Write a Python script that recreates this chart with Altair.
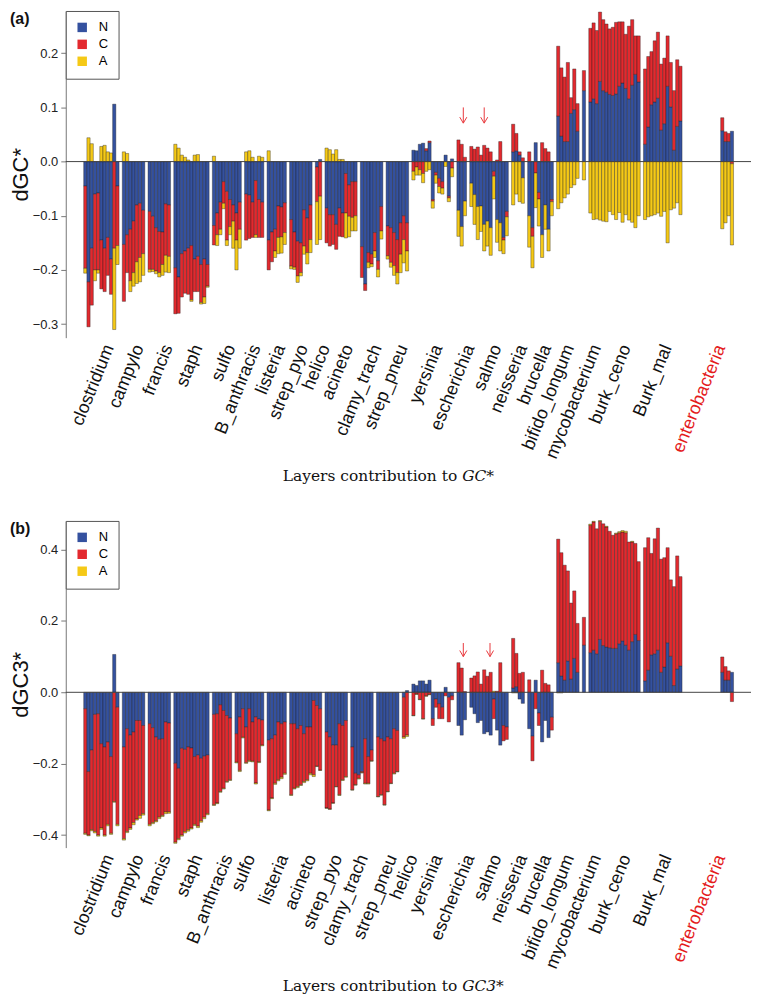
import altair as alt
import pandas as pd

COMPONENTS = ["N", "C", "A"]
COLORS = ["#34519f", "#e3292e", "#f5c916"]

# bars per group, in the left-to-right order of each panel
SIZES_A = [11, 7, 7, 11, 9, 6, 6, 7, 2, 10, 7, 7, 6, 7, 3, 12, 4, 8, 7, 1, 16, 12, 4]
SIZES_B = [11, 7, 7, 11, 6, 9, 6, 10, 7, 7, 7, 2, 6, 7, 3, 12, 4, 8, 7, 1, 16, 12, 4]
# empty bar slots after each group (layout)
GAPS = [1, 1, 1, 1, 1, 1, 1, 1, 1, 1, 1, 1, 0, 1, 1, 1, 1, 1, 1, 1, 1, 12]

# ---------------- panel (a): dGC* ----------------
N_A = [-0.045, -0.222, -0.160, -0.060, -0.058, -0.145, -0.160, -0.140, -0.180, 0.106, -0.045,
       -0.153, -0.135, -0.125, -0.110, -0.080, -0.077, -0.090,
       -0.092, -0.101, -0.122, -0.129, -0.130, -0.078, -0.080,
       -0.196, -0.213, -0.170, -0.165, -0.160, -0.155, -0.180, -0.175, -0.190, -0.180, -0.190,
       -0.118, -0.095, -0.075, -0.037, -0.055, -0.070, -0.080, -0.095, -0.075,
       -0.060, -0.062, -0.075, -0.035, -0.070, -0.075,
       -0.145, -0.130, -0.125, -0.082, -0.084, -0.076,
       -0.107, -0.130, -0.147, -0.150, -0.089, -0.104, -0.080,
       -0.010, 0.004,
       -0.086, -0.098, -0.098, -0.116, -0.086, -0.095, -0.022, -0.043, -0.037, -0.037,
       -0.157, -0.226, -0.168, -0.171, -0.131, -0.183, -0.083,
       -0.119, -0.122, -0.131, -0.144, -0.113, -0.100, -0.113,
       0.021, 0.020, 0.032, 0.034, 0.020, 0.035,
       -0.070, -0.020, -0.031, -0.037, 0.012, -0.064, 0.005,
       -0.090, -0.120, -0.073,
       -0.040, -0.061, -0.083, -0.082, -0.116, -0.110, -0.122, -0.018, -0.107, -0.113, -0.140, -0.092,
       0.018, 0.020, 0.012, -0.030,
       -0.100, -0.122, 0.035, -0.057, -0.135, -0.080, -0.125, -0.070,
       0.084, 0.047, 0.037, 0.037, 0.089, 0.096, 0.056,
       0.131,
       0.110, 0.116, 0.107, 0.148, 0.131, 0.128, 0.124, 0.122, 0.125, 0.139, 0.145, 0.135, 0.116, 0.141, 0.161, 0.147,
       0.032, 0.064, 0.105, 0.110, 0.117, 0.058, 0.070, 0.139, 0.101, 0.021, 0.065, 0.075,
       0.057, 0.037, 0.037, 0.056]
C_A = [-0.152, -0.083, -0.105, -0.140, -0.142, -0.090, -0.080, -0.070, -0.065, -0.160, -0.110,
       -0.105, -0.070, -0.095, -0.095, -0.105, -0.100, -0.080,
       -0.107, -0.098, -0.080, -0.076, -0.060, -0.095, -0.095,
       -0.085, -0.067, -0.080, -0.078, -0.085, -0.100, -0.060, -0.065, -0.070, -0.070, -0.040,
       -0.036, -0.040, -0.050, -0.040, -0.090, -0.050, -0.030, -0.050, -0.050,
       -0.085, -0.080, -0.065, -0.100, -0.070, -0.065,
       -0.055, -0.055, -0.040, -0.058, -0.055, -0.055,
       -0.086, -0.065, -0.064, -0.055, -0.067, -0.064, -0.064,
       -0.064, -0.064,
       -0.064, -0.058, -0.055, -0.046, -0.052, -0.044, -0.073, -0.058, -0.066, -0.063,
       -0.057, -0.012, -0.018, -0.018, -0.034, -0.016, -0.045,
       -0.055, -0.064, -0.061, -0.061, -0.058, -0.044, -0.052,
       -0.018, -0.010, -0.015, -0.022, 0.004, 0.003,
       -0.003, -0.005, -0.015, -0.012, 0.000, -0.003, -0.012,
       0.040, 0.032, 0.008,
       0.028, 0.023, 0.027, 0.012, 0.030, 0.025, 0.018, -0.009, 0.003, 0.037, -0.005, -0.010,
       0.051, 0.032, 0.006, 0.007,
       0.018, -0.016, -0.021, -0.012, 0.035, 0.024, 0.018, -0.004,
       0.129, 0.126, 0.119, 0.146, 0.029, 0.075, 0.051,
       0.037,
       0.136, 0.140, 0.135, 0.128, 0.131, 0.126, 0.121, 0.126, 0.132, 0.119, 0.113, 0.100, 0.134, 0.121, 0.071, 0.085,
       0.139, 0.130, 0.098, 0.113, 0.122, 0.122, 0.121, 0.093, 0.082, 0.110, 0.123, 0.101,
       0.024, 0.018, 0.015, -0.004]
A_A = [-0.009, 0.044, 0.033, -0.020, -0.006, 0.028, 0.030, 0.018, 0.016, -0.150, -0.035,
       0.018, 0.015, -0.020, -0.025, -0.040, -0.045, -0.040,
       -0.005, -0.004, -0.005, -0.008, -0.020, -0.031, -0.030,
       0.032, 0.025, 0.012, 0.008, 0.003, -0.003, 0.012, 0.013, -0.003, -0.012, -0.002,
       0.010, -0.020, -0.010, -0.010, -0.010, -0.015, -0.050, -0.055, -0.035,
       0.018, 0.020, 0.008, -0.005, 0.010, 0.008,
       0.020, 0.000, -0.012, -0.030, -0.030, -0.022,
       -0.005, -0.004, -0.012, -0.006, -0.015, -0.021, -0.024,
       -0.079, -0.080,
       0.025, 0.022, 0.014, 0.022, 0.004, 0.004, -0.046, -0.038, -0.025, -0.028,
       0.000, 0.000, -0.010, -0.005, -0.012, -0.014, -0.015,
       -0.006, -0.009, -0.018, -0.021, -0.034, -0.043, -0.037,
       -0.016, -0.015, -0.010, -0.017, -0.018, -0.015,
       -0.013, -0.015, -0.012, -0.011, -0.009, -0.007, -0.016,
       -0.048, -0.036, -0.027,
       -0.043, -0.055, -0.061, -0.047, -0.049, -0.046, -0.051, -0.042, -0.042, -0.052, -0.025, -0.035,
       -0.080, -0.060, -0.074, -0.047,
       -0.058, -0.058, -0.064, -0.050, -0.042, -0.045, -0.040, -0.026,
       -0.087, -0.076, -0.067, -0.060, -0.048, -0.043, -0.031,
       -0.034,
       -0.095, -0.107, -0.106, -0.108, -0.110, -0.111, -0.092, -0.098, -0.107, -0.094, -0.112, -0.098, -0.108, -0.112, -0.122, -0.100,
       -0.107, -0.102, -0.100, -0.098, -0.095, -0.101, -0.092, -0.150, -0.089, -0.086, -0.076, -0.098,
       -0.124, -0.113, -0.100, -0.150]

# ---------------- panel (b): dGC3* ----------------
N_B = [-0.046, -0.222, -0.162, -0.062, -0.060, -0.144, -0.153, -0.139, -0.180, 0.106, -0.042,
       -0.153, -0.102, -0.120, -0.111, -0.079, -0.079, -0.093,
       -0.088, -0.099, -0.125, -0.132, -0.130, -0.083, -0.086,
       -0.199, -0.213, -0.157, -0.160, -0.153, -0.156, -0.180, -0.176, -0.185, -0.179, -0.176,
       -0.062, -0.060, -0.035, -0.051, -0.065, -0.072,
       -0.116, -0.069, -0.046, -0.097, -0.046, -0.083, -0.069, -0.075, -0.078,
       -0.134, -0.130, -0.120, -0.083, -0.088, -0.083,
       -0.088, -0.088, -0.102, -0.093, -0.116, -0.097, -0.097, -0.023, -0.037, -0.046,
       -0.111, -0.125, -0.148, -0.148, -0.088, -0.093, -0.079,
       -0.153, -0.227, -0.231, -0.222, -0.130, -0.180, -0.162,
       -0.125, -0.130, -0.136, -0.125, -0.130, -0.102, -0.107,
       -0.014, 0.005,
       0.023, 0.019, 0.032, 0.032, 0.023, 0.034,
       -0.074, -0.019, -0.032, -0.042, 0.014, -0.014, -0.010,
       -0.093, -0.120, -0.077,
       -0.042, -0.060, -0.085, -0.079, -0.116, -0.111, -0.120, -0.019, -0.106, -0.148, -0.093, -0.097,
       0.012, 0.016, -0.019, -0.031,
       -0.102, -0.123, 0.034, -0.058, -0.139, -0.079, -0.127, -0.070,
       0.083, 0.046, 0.034, 0.088, 0.037, 0.095, 0.056,
       0.132,
       0.111, 0.118, 0.108, 0.148, 0.131, 0.127, 0.125, 0.123, 0.123, 0.136, 0.144, 0.132, 0.118, 0.142, 0.162, 0.145,
       0.032, 0.062, 0.105, 0.108, 0.118, 0.056, 0.071, 0.139, 0.101, 0.019, 0.065, 0.074,
       0.056, 0.034, 0.034, 0.056]
C_B = [-0.349, -0.178, -0.223, -0.328, -0.340, -0.236, -0.247, -0.231, -0.215, -0.306, -0.328,
       -0.257, -0.288, -0.260, -0.254, -0.276, -0.266, -0.247,
       -0.282, -0.266, -0.235, -0.218, -0.215, -0.252, -0.249,
       -0.221, -0.197, -0.243, -0.230, -0.232, -0.224, -0.190, -0.199, -0.175, -0.171, -0.164,
       -0.253, -0.250, -0.243, -0.218, -0.185, -0.173,
       -0.080, -0.150, -0.080, -0.100, -0.145, -0.110, -0.185, -0.120, -0.070,
       -0.196, -0.166, -0.135, -0.162, -0.150, -0.144,
       -0.199, -0.181, -0.162, -0.166, -0.134, -0.148, -0.130, -0.208, -0.170, -0.172,
       -0.213, -0.202, -0.162, -0.116, -0.199, -0.152, -0.157,
       -0.120, -0.032, -0.010, -0.003, -0.125, -0.075, -0.030,
       -0.167, -0.157, -0.179, -0.153, -0.125, -0.125, -0.115,
       -0.111, -0.120,
       -0.065, -0.005, -0.020, -0.074, -0.010, -0.006,
       -0.019, -0.023, -0.042, -0.032, -0.010, -0.069, -0.011,
       0.083, 0.068, 0.002,
       0.040, 0.046, 0.057, 0.023, 0.063, 0.045, 0.056, -0.055, 0.003, 0.083, -0.043, -0.035,
       0.139, 0.093, 0.053, 0.056,
       0.035, -0.069, -0.046, -0.035, 0.062, 0.025, 0.021, -0.036,
       0.346, 0.345, 0.322, 0.252, 0.213, 0.189, 0.137,
       0.078,
       0.357, 0.359, 0.350, 0.331, 0.341, 0.336, 0.326, 0.317, 0.321, 0.311, 0.305, 0.315, 0.303, 0.279, 0.255, 0.221,
       0.373, 0.371, 0.284, 0.322, 0.342, 0.317, 0.306, 0.266, 0.214, 0.277, 0.317, 0.250,
       0.043, 0.038, 0.026, -0.026]
A_B = [-0.003, -0.002, -0.003, -0.004, -0.003, -0.004, -0.003, -0.004, -0.003, -0.002, -0.004,
       -0.004, -0.003, -0.004, -0.006, -0.003, -0.008, -0.004,
       -0.004, -0.003, -0.003, -0.004, -0.003, -0.005, -0.004,
       -0.003, -0.003, -0.003, -0.004, -0.004, -0.003, -0.003, -0.004, -0.004, -0.004, -0.003,
       -0.002, -0.002, -0.002, -0.002, -0.002, -0.002,
       -0.002, -0.003, -0.002, -0.002, -0.003, -0.002, -0.003, -0.002, -0.002,
       -0.002, -0.002, -0.003, -0.003, -0.004, -0.003,
       -0.002, -0.002, -0.003, -0.002, -0.003, -0.003, -0.004, -0.005, -0.001, -0.001,
       -0.001, -0.001, -0.001, -0.001, -0.002, -0.002, -0.002,
       -0.001, -0.001, -0.002, -0.001, -0.002, -0.002, -0.001,
       -0.001, -0.001, -0.001, -0.001, -0.001, -0.002, -0.001,
       -0.004, -0.004,
       -0.001, -0.001, -0.001, -0.001, -0.001, -0.001,
       0.000, 0.000, 0.000, 0.000, 0.000, 0.000, 0.000,
       0.000, 0.000, 0.000,
       0.000, 0.000, 0.000, 0.000, 0.000, 0.000, 0.000, 0.003, 0.000, 0.000, 0.000, 0.000,
       -0.002, -0.002, 0.000, 0.000,
       0.000, 0.000, 0.000, 0.000, 0.000, 0.000, 0.000, 0.000,
       -0.002, -0.002, 0.000, 0.000, 0.000, 0.000, 0.000,
       0.000,
       0.003, 0.002, 0.000, 0.002, 0.000, 0.002, 0.000, 0.000, 0.002, 0.003, 0.004, 0.004, 0.000, 0.002, 0.000, 0.000,
       0.000, 0.000, 0.000, 0.000, 0.000, 0.000, 0.000, 0.000, 0.000, 0.000, 0.000, 0.000,
       0.000, 0.000, 0.000, 0.000]

# category labels and the bar-slot position each label ends at
LABELS_A = ["clostridium", "campylo", "francis", "staph", "sulfo", "B_anthracis", "listeria",
            "strep_pyo", "helico", "acineto", "clamy_trach", "strep_pneu", "yersinia",
            "escherichia", "salmo", "neisseria", "brucella", "bifido_longum", "mycobacterium",
            "burk_ceno", "Burk_mal", "enterobacteria"]
LABPOS_A = [7.5, 16.8, 25.8, 35.1, 45.3, 53.1, 60.8, 67.9, 74.7, 81.9, 90.8, 98.9, 109.7,
            119.6, 128.0, 136.0, 143.5, 150.6, 159.0, 168.2, 180.9, 197.6]
LABELS_B = ["clostridium", "campylo", "francis", "staph", "B_anthracis", "sulfo", "listeria",
            "acineto", "strep_pyo", "clamy_trach", "strep_pneu", "helico", "yersinia",
            "escherichia", "salmo", "neisseria", "brucella", "bifido_longum", "mycobacterium",
            "burk_ceno", "Burk_mal", "enterobacteria"]
LABPOS_B = [7.5, 16.8, 25.2, 35.1, 44.4, 51.5, 61.7, 70.4, 78.5, 86.5, 95.5, 102.0, 109.7,
            119.6, 128.0, 136.0, 143.5, 150.6, 159.0, 168.2, 180.9, 197.6]

# red arrows: slot position, top value, tip value
ARROWS_A = [(117.5, 0.100, 0.071), (124.0, 0.100, 0.071)]
ARROWS_B = [(117.5, 0.138, 0.100), (125.8, 0.138, 0.100)]

W, H = 688, 328
XDOM = [-6.07, 206.93]


def bar_table(sizes, N, C, A):
    assert len(N) == len(C) == len(A) == sum(sizes)
    rows, slot, i = [], 0, 0
    for g, size in enumerate(sizes):
        for _ in range(size):
            pos = neg = 0.0
            for comp, v in zip(COMPONENTS, (N[i], C[i], A[i])):
                if v == 0:
                    continue
                if v > 0:
                    y0, y1 = pos, pos + v
                    pos = y1
                else:
                    y0, y1 = neg, neg + v
                    neg = y1
                rows.append(dict(x0=slot - 0.5, x1=slot + 0.5, y0=y0, y1=y1, comp=comp))
            slot += 1
            i += 1
        if g < len(GAPS):
            slot += GAPS[g]
    return pd.DataFrame(rows)


def arrow_table(arrows, hw, hh):
    rows = []
    for x, top, tip in arrows:
        rows.append(dict(x=x, x2=x, y=top, y2=tip))
        rows.append(dict(x=x - hw, x2=x, y=tip + hh, y2=tip))
        rows.append(dict(x=x + hw, x2=x, y=tip + hh, y2=tip))
    return pd.DataFrame(rows)


def panel(letter, N, C, A, sizes, labels, labpos, arrows, ydom, yticks, ytitle,
          title_main, title_ital, head_h):
    xs = alt.Scale(domain=XDOM, nice=False, zero=False)
    ys = alt.Scale(domain=ydom, nice=False, zero=False)
    bars = alt.Chart(bar_table(sizes, N, C, A)).mark_rect(
        stroke="#1e1e1e", strokeWidth=0.5, strokeOpacity=0.75
    ).encode(
        x=alt.X("x0:Q", scale=xs, axis=None),
        x2="x1",
        y=alt.Y("y0:Q", scale=ys, title=ytitle,
                axis=alt.Axis(values=yticks, format=".1f", grid=False, tickSize=5,
                              labelPadding=3, labelFontSize=13, labelFont="Liberation Sans",
                              labelColor="#222", domainColor="#777", tickColor="#777",
                              titleFont="Liberation Sans", titleFontSize=22,
                              titleFontWeight="normal", titlePadding=0, titleColor="#111")),
        y2="y1",
        color=alt.Color("comp:N",
                        scale=alt.Scale(domain=COMPONENTS, range=COLORS),
                        legend=alt.Legend(orient="top-left", offset=0, title=None, padding=10,
                                          strokeColor="#555", fillColor="white",
                                          labelFontSize=13, labelFont="Liberation Sans",
                                          symbolType="square", symbolSize=90,
                                          symbolStrokeWidth=0, rowPadding=3, labelOffset=10)),
    )
    zero = alt.Chart(pd.DataFrame({"y": [0.0]})).mark_rule(color="#444", strokeWidth=1).encode(
        y=alt.Y("y:Q", scale=ys))
    arr = alt.Chart(arrow_table(arrows, 1.1, head_h)).mark_rule(
        color="#e8383c", strokeWidth=1).encode(
        x=alt.X("x:Q", scale=xs, axis=None), x2="x2",
        y=alt.Y("y:Q", scale=ys), y2="y2")
    lab_df = pd.DataFrame({"name": labels, "pos": labpos,
                           "col": ["#e41a1c" if n == "enterobacteria" else "#111" for n in labels]})
    labs = alt.Chart(lab_df).mark_text(
        angle=292, align="right", baseline="middle", fontSize=18, font="Liberation Sans"
    ).encode(
        x=alt.X("pos:Q", scale=xs, axis=None),
        y=alt.value(H + 8),
        text="name:N",
        color=alt.Color("col:N", scale=None),
    )
    one = pd.DataFrame({"k": [0]})
    t1 = alt.Chart(one).mark_text(text=title_main, align="right", baseline="middle",
                                  font="DejaVu Serif", fontSize=15.5, color="#111").encode(
        x=alt.value(393), y=alt.value(H + 139))
    t2 = alt.Chart(one).mark_text(text=title_ital, align="left", baseline="middle",
                                  font="DejaVu Serif", fontSize=15.5, fontStyle="italic",
                                  color="#111").encode(
        x=alt.value(398), y=alt.value(H + 139))
    tag = alt.Chart(one).mark_text(text=letter, align="left", baseline="middle",
                                   font="Liberation Sans", fontSize=16, fontWeight="bold",
                                   color="#111").encode(
        x=alt.value(-56), y=alt.value(8))
    return alt.layer(bars, zero, arr, labs, t1, t2, tag).properties(width=W, height=H)


pa = panel("(a)", N_A, C_A, A_A, SIZES_A, LABELS_A, LABPOS_A, ARROWS_A,
           [-0.325, 0.278], [-0.3, -0.2, -0.1, 0.0, 0.1, 0.2], "dGC*",
           "Layers contribution to", "GC*", 0.011)
pb = panel("(b)", N_B, C_B, A_B, SIZES_B, LABELS_B, LABPOS_B, ARROWS_B,
           [-0.435, 0.48], [-0.4, -0.2, 0.0, 0.2, 0.4], "dGC3*",
           "Layers contribution to", "GC3*", 0.017)

chart = alt.vconcat(pa, pb, spacing=34).resolve_scale(
    color="independent").resolve_legend(color="independent").properties(
    padding={"left": 0, "top": 0, "right": 0, "bottom": 0}, background="white"
).configure_view(stroke="transparent")

chart.save("out.html", embed_options={"renderer": "svg", "actions": False})
